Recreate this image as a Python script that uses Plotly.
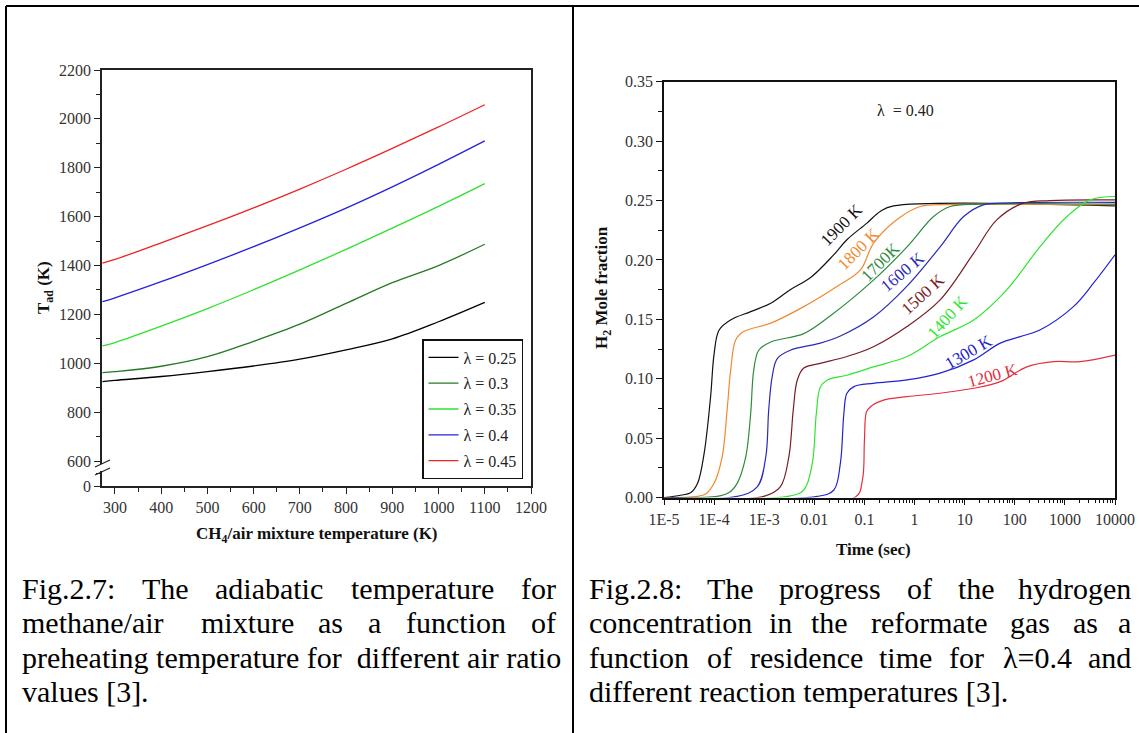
import plotly.graph_objects as go
import numpy as np

W, H = 1139, 733
def px(x): return x / W
def py(y): return 1 - y / H

SERIF = "Liberation Serif, Times New Roman, serif"

# ---------------- Fig 2.7 data ----------------
preheat_T = [273, 300, 400, 500, 600, 700, 800, 900, 1000, 1100]
lambda_names = ["λ = 0.25", "λ = 0.3", "λ = 0.35", "λ = 0.4", "λ = 0.45"]
tad_025 = [925, 930, 946, 966, 989, 1017, 1055, 1100, 1170, 1249]
tad_030 = [962, 966, 988, 1027, 1090, 1160, 1245, 1330, 1400, 1487]
tad_035 = [1071, 1085, 1152, 1224, 1301, 1382, 1466, 1553, 1642, 1735]
tad_040 = [1252, 1268, 1334, 1404, 1477, 1554, 1635, 1722, 1814, 1910]
tad_045 = [1410, 1425, 1493, 1563, 1636, 1713, 1794, 1879, 1967, 2058]
left_colors = ["#000000", "#237a23", "#2fe02f", "#2323d8", "#ec2424"]
left_yticks_val = [498, 600, 800, 1000, 1200, 1400, 1600, 1800, 2000, 2200]
left_yticks_txt = ["0", "600", "800", "1000", "1200", "1400", "1600", "1800", "2000", "2200"]

# ---------------- Fig 2.8 data (log10 time [s], H2 mole fraction) ----------------
temps = ["1900 K", "1800 K", "1700K", "1600 K", "1500 K", "1400 K", "1300 K", "1200 K"]
lt_1900 = [-5.0, -4.67, -4.47, -4.33, -4.20, -4.07, -4.00, -3.90, -3.67, -3.27, -2.87, -2.48, -2.08, -1.62, -1.35, -0.95, -0.68, -0.42, 4.0]
h2_1900 = [0.0, 0.002, 0.004, 0.012, 0.037, 0.085, 0.121, 0.141, 0.1495, 0.1565, 0.1636, 0.175, 0.185, 0.204, 0.217, 0.231, 0.241, 0.2455, 0.2455]
lt_1800 = [-5.0, -4.33, -4.17, -4.00, -3.84, -3.74, -3.67, -3.57, -3.41, -2.87, -2.21, -1.55, -1.08, -0.82, -0.35, 0.11, 0.51, 4.0]
h2_1800 = [0.0, 0.001, 0.003, 0.012, 0.034, 0.074, 0.107, 0.1327, 0.1397, 0.1468, 0.1607, 0.1776, 0.1916, 0.214, 0.234, 0.245, 0.2465, 0.2465]
lt_1700 = [-5.0, -3.94, -3.71, -3.54, -3.37, -3.27, -3.21, -3.11, -2.87, -2.21, -1.68, -0.82, -0.15, 0.38, 0.71, 1.3, 4.0]
h2_1700 = [0.0, 0.001, 0.004, 0.012, 0.034, 0.071, 0.107, 0.124, 0.131, 0.138, 0.153, 0.183, 0.211, 0.2365, 0.245, 0.247, 0.247]
lt_1600 = [-5.0, -3.54, -3.14, -2.97, -2.91, -2.84, -2.74, -2.48, -1.88, -1.48, -0.82, -0.15, 0.51, 0.98, 1.37, 1.9, 4.0]
h2_1600 = [0.0, 0.001, 0.009, 0.034, 0.074, 0.102, 0.117, 0.124, 0.13, 0.136, 0.152, 0.178, 0.211, 0.2365, 0.2464, 0.248, 0.2485]
lt_1500 = [-5.0, -3.01, -2.68, -2.51, -2.42, -2.34, -2.21, -1.88, -1.35, -0.82, -0.15, 0.51, 1.18, 1.64, 2.17, 2.70, 4.0]
h2_1500 = [0.0, 0.001, 0.009, 0.034, 0.074, 0.099, 0.109, 0.113, 0.1187, 0.127, 0.144, 0.1664, 0.2057, 0.2337, 0.2478, 0.250, 0.2505]
lt_1400 = [-5.0, -2.54, -2.21, -2.04, -1.96, -1.88, -1.74, -1.35, -0.82, -0.15, 0.51, 1.18, 1.84, 2.50, 3.04, 3.50, 4.0]
h2_1400 = [0.0, 0.001, 0.0064, 0.029, 0.071, 0.093, 0.099, 0.103, 0.110, 0.1187, 0.1355, 0.1495, 0.1748, 0.211, 0.2365, 0.2506, 0.2534]
lt_1300 = [-5.0, -1.94, -1.61, -1.48, -1.41, -1.35, -1.21, -0.82, -0.15, 0.51, 1.18, 1.71, 2.11, 2.50, 3.17, 3.57, 4.0]
h2_1300 = [0.0, 0.001, 0.0064, 0.029, 0.071, 0.0878, 0.0934, 0.0962, 0.099, 0.1047, 0.1159, 0.130, 0.1355, 0.141, 0.1607, 0.1804, 0.2043]
lt_1200 = [-5.0, -1.18, -1.04, -1.00, -0.96, -0.88, -0.62, -0.15, 0.51, 1.18, 1.71, 2.24, 2.77, 3.30, 4.0]
h2_1200 = [0.0, 0.0005, 0.015, 0.048, 0.072, 0.0765, 0.082, 0.085, 0.0878, 0.092, 0.0976, 0.110, 0.1144, 0.1144, 0.12]
right_colors = ["#111111", "#f08a30", "#2e8a3c", "#2a2ab8", "#7a1c26", "#30e430", "#2222d2", "#e2303e"]
time_tick_txt = ["1E-5", "1E-4", "1E-3", "0.01", "0.1", "1", "10", "100", "1000", "10000"]

fig = go.Figure()

left_series = [tad_025, tad_030, tad_035, tad_040, tad_045]
for name, ys, col in zip(lambda_names, left_series, left_colors):
    fig.add_trace(go.Scatter(x=preheat_T, y=ys, mode="lines", name=name,
                             line=dict(color=col, width=1.3, shape="spline", smoothing=1.0),
                             xaxis="x", yaxis="y", legendgroup=name))

right_series = [(lt_1900, h2_1900), (lt_1800, h2_1800), (lt_1700, h2_1700), (lt_1600, h2_1600),
                (lt_1500, h2_1500), (lt_1400, h2_1400), (lt_1300, h2_1300), (lt_1200, h2_1200)]
for name, (lt, h2), col in zip(temps, right_series, right_colors):
    fig.add_trace(go.Scatter(x=10 ** np.array(lt), y=h2, mode="lines", name=name, showlegend=False,
                             line=dict(color=col, width=1.2, shape="spline", smoothing=1.0),
                             xaxis="x2", yaxis="y2"))

tickfont = dict(family=SERIF, size=16, color="#333333")
time_major = [10.0 ** k for k in range(-5, 5)]
time_minor = [m * 10.0 ** k for k in range(-5, 4) for m in range(2, 10)]

fig.update_layout(
    width=W, height=H, margin=dict(l=0, r=0, t=0, b=0, pad=0, autoexpand=False),
    paper_bgcolor="white", plot_bgcolor="white",
    font=dict(family=SERIF, color="#222"),
    xaxis=dict(domain=[px(102), px(531)], range=[272, 1200], dtick=100, tick0=300, automargin=False,
               ticks="outside", ticklen=6, tickcolor="#222", showgrid=False, zeroline=False,
               showline=True, linecolor="#222", linewidth=1.5, mirror=True, tickfont=tickfont,
               minor=dict(ticks="outside", ticklen=4, dtick=50, tick0=250, tickcolor="#222")),
    yaxis=dict(domain=[py(486), py(70)], range=[498, 2200], tickmode="array", automargin=False,
               tickvals=left_yticks_val, ticktext=left_yticks_txt,
               ticks="outside", ticklen=6, tickcolor="#222", showgrid=False, zeroline=False,
               showline=True, linecolor="#222", linewidth=1.5, mirror=True, tickfont=tickfont,
               minor=dict(ticks="outside", ticklen=4, tickvals=[549, 700, 900, 1100, 1300, 1500, 1700, 1900, 2100], tickcolor="#222")),
    xaxis2=dict(domain=[px(664), px(1115)], type="log", range=[-5, 4], anchor="y2", automargin=False,
                tickmode="array", tickvals=time_major, ticktext=time_tick_txt,
                ticks="outside", ticklen=6, tickcolor="#111", showgrid=False, zeroline=False,
                showline=True, linecolor="#111", linewidth=1.6, mirror=True, tickfont=tickfont,
                minor=dict(ticks="outside", ticklen=4, tickvals=time_minor, tickcolor="#111")),
    yaxis2=dict(domain=[py(497.6), py(81.7)], range=[0, 0.35], dtick=0.05, tickformat=".2f", anchor="x2",
                automargin=False,
                ticks="outside", ticklen=6, tickcolor="#111", showgrid=False, zeroline=False,
                showline=True, linecolor="#111", linewidth=1.6, mirror=True, tickfont=tickfont,
                minor=dict(ticks="outside", ticklen=4, dtick=0.025, tickcolor="#111")),
    legend=dict(x=px(422), y=py(339), xanchor="left", yanchor="top", bgcolor="white",
                bordercolor="#111", borderwidth=1.5, font=dict(family=SERIF, size=16, color="#222"),
                tracegroupgap=2, itemwidth=30),
    showlegend=True,
)

shapes = []
# table borders
shapes.append(dict(type="line", xref="paper", yref="paper", x0=px(6), x1=1, y0=py(6), y1=py(6), line=dict(color="black", width=2)))
shapes.append(dict(type="line", xref="paper", yref="paper", x0=px(6), x1=px(6), y0=py(6), y1=0, line=dict(color="black", width=2)))
shapes.append(dict(type="line", xref="paper", yref="paper", x0=px(573), x1=px(573), y0=py(6), y1=0, line=dict(color="black", width=2)))
# axis break marks
shapes.append(dict(type="rect", xref="paper", yref="paper", x0=px(100), x1=px(105), y0=py(471), y1=py(464), fillcolor="white", line=dict(width=0)))
shapes.append(dict(type="line", xref="paper", yref="paper", x0=px(95), x1=px(110), y0=py(467), y1=py(460), line=dict(color="#222", width=1.2)))
shapes.append(dict(type="line", xref="paper", yref="paper", x0=px(95), x1=px(110), y0=py(475), y1=py(468), line=dict(color="#222", width=1.2)))

ann = []
def add_text(text, x, y, font, angle=0, xanchor="center"):
    ann.append(dict(text=text, x=px(x), y=py(y), xref="paper", yref="paper", textangle=angle,
                    xanchor=xanchor, yanchor="middle", showarrow=False, font=font))

titlefont = dict(family=SERIF, size=17, color="#111")
add_text("<b>T<sub>ad</sub> (K)</b>", 45, 288, titlefont, -90)
add_text("<b>CH<sub>4</sub>/air mixture temperature (K)</b>", 317, 535, titlefont)
add_text("<b>H<sub>2</sub> Mole fraction</b>", 603, 288, titlefont, -90)
add_text("<b>Time (sec)</b>", 873, 549, titlefont)
add_text("λ  = 0.40", 905, 111, dict(family=SERIF, size=16, color="#222"))

label_pos = [(841, 225, -45), (858, 249, -45), (880, 262, -45), (902, 272, -40),
             (923, 295, -42), (947, 317, -48), (968, 352, -30), (993, 375, -15)]
for name, (lx, ly, ang), col in zip(temps, label_pos, right_colors):
    add_text(name, lx, ly, dict(family=SERIF, size=17, color=col), ang)

capfont = dict(family=SERIF, size=30, color="black")
# captions: each word (text, x, anchor), lines at given y
captions = [
    (588, [("Fig.2.7:", 20, "left"), ("The", 165, "center"), ("adiabatic", 269, "center"), ("temperature", 422, "center"), ("for", 558, "right")]),
    (622, [("methane/air", 20, "left"), ("mixture", 247, "center"), ("as", 330, "center"), ("a", 374, "center"), ("function", 456, "center"), ("of", 558, "right")]),
    (657, [("preheating temperature for  different air ratio", 20, "left")]),
    (691, [("values [3].", 20, "left")]),
    (588, [("Fig.2.8:", 587, "left"), ("The", 730, "center"), ("progress", 830, "center"), ("of", 919, "center"), ("the", 976, "center"), ("hydrogen", 1133, "right")]),
    (622, [("concentration", 587, "left"), ("in", 780, "center"), ("the", 829, "center"), ("reformate", 929, "center"), ("gas", 1030, "center"), ("as", 1085, "center"), ("a", 1133, "right")]),
    (657, [("function", 587, "left"), ("of", 719, "center"), ("residence", 806, "center"), ("time", 905, "center"), ("for", 966, "center"), ("λ=0.4", 1037, "center"), ("and", 1133, "right")]),
    (691, [("different reaction temperatures [3].", 587, "left")]),
]
for ly, words in captions:
    for w, wx, anc in words:
        add_text(w, wx, ly, capfont, 0, anc)

fig.update_layout(shapes=shapes, annotations=ann)
fig.write_html("out.html", config={"displayModeBar": False},
               post_script="document.body.style.margin='0px';document.body.style.padding='0px';"
                           "document.documentElement.style.overflow='hidden';")
